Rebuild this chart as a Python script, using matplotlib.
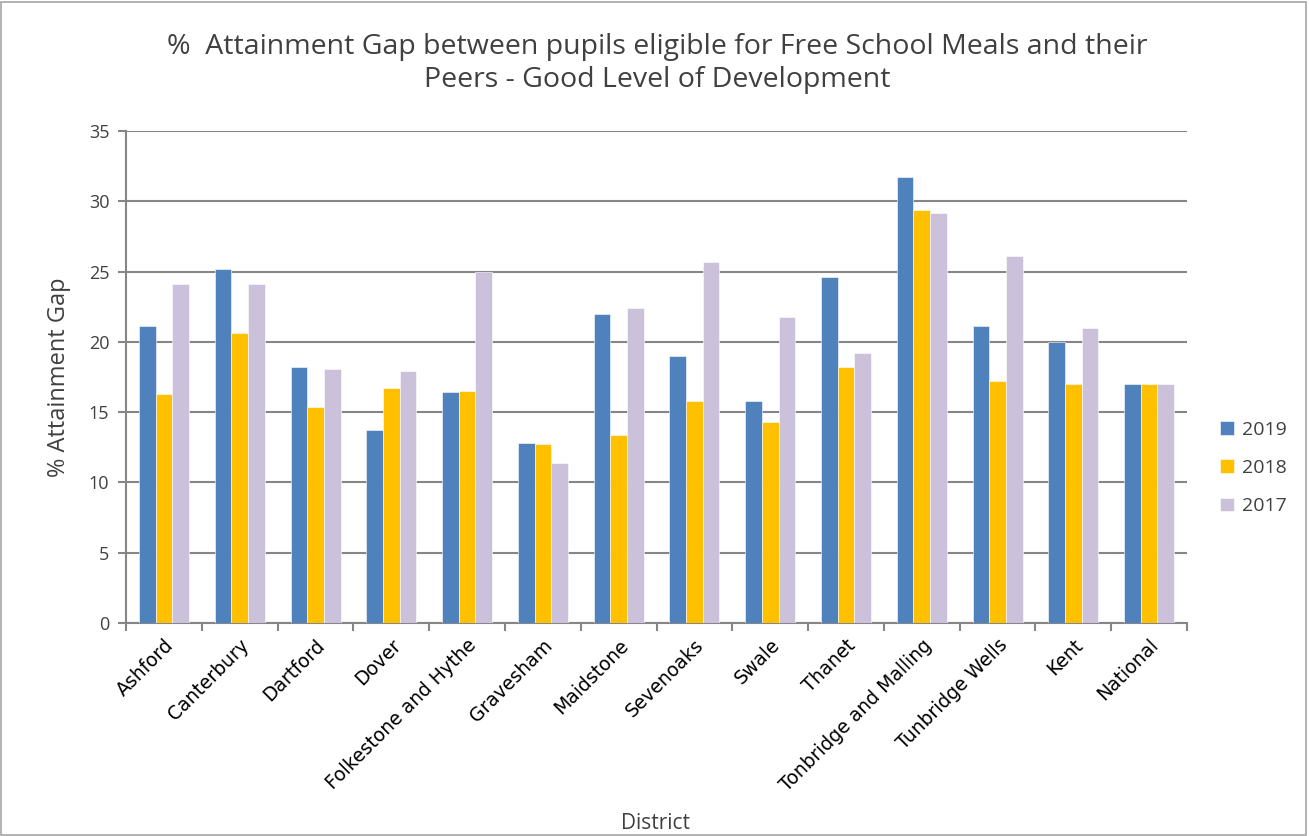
import numpy as np
import matplotlib
matplotlib.use("Agg")
import matplotlib.pyplot as plt
from matplotlib.patches import Rectangle

districts = ["Ashford", "Canterbury", "Dartford", "Dover", "Folkestone and Hythe",
             "Gravesham", "Maidstone", "Sevenoaks", "Swale", "Thanet",
             "Tonbridge and Malling", "Tunbridge Wells", "Kent", "National"]
gap_2019 = [21.1, 25.2, 18.2, 13.7, 16.4, 12.8, 22.0, 19.0, 15.8, 24.6, 31.7, 21.1, 20.0, 17.0]
gap_2018 = [16.3, 20.6, 15.4, 16.7, 16.5, 12.7, 13.4, 15.8, 14.3, 18.2, 29.4, 17.2, 17.0, 17.0]
gap_2017 = [24.1, 24.1, 18.1, 17.9, 25.0, 11.4, 22.4, 25.7, 21.8, 19.2, 29.2, 26.1, 21.0, 17.0]
series = [("2019", gap_2019, "#4F81BD"), ("2018", gap_2018, "#FFC000"), ("2017", gap_2017, "#CCC1DA")]

grey = "#404040"
axis_grey = "#868686"
txt_font = "Open Sans"

fig = plt.figure(figsize=(13.09, 8.36), dpi=100)
ax = fig.add_axes([0.0963, 0.2548, 0.8105, 0.5885])

x = np.arange(len(districts))
w = 0.22
for i, (name, vals, col) in enumerate(series):
    ax.bar(x + (i - 1) * w, vals, w, color=col, label=name, zorder=3,
           edgecolor="white", linewidth=0.4)

ax.set_xlim(-0.5, len(districts) - 0.5)
ax.set_ylim(0, 35)
ax.set_yticks(range(0, 36, 5))
ax.yaxis.grid(True, color=axis_grey, linewidth=1.5, zorder=0)
ax.set_axisbelow(True)

for s in ["top", "right"]:
    ax.spines[s].set_visible(False)
for s in ["left", "bottom"]:
    ax.spines[s].set_color(axis_grey)
    ax.spines[s].set_linewidth(1.5)

# category ticks at boundaries, labels at centres
ax.set_xticks(np.arange(-0.5, len(districts)), minor=False)
ax.set_xticklabels([])
ax.set_xticks(x, minor=True)
ax.set_xticklabels(districts, minor=True, rotation=45, ha="right", va="top",
                   rotation_mode="anchor", fontsize=13.5, family="DejaVu Sans")
ax.tick_params(axis="x", which="major", length=6, width=1.5, color=axis_grey, direction="out")
ax.tick_params(axis="x", which="minor", length=0, pad=9)
ax.tick_params(axis="y", length=6, width=1.5, color=axis_grey, labelsize=13,
               labelcolor=grey, pad=6)
for lab in ax.get_yticklabels():
    lab.set_family(txt_font)

ax.set_ylabel("% Attainment Gap", fontsize=17, color=grey, family=txt_font, labelpad=13)
fig.text(0.5005, 0.0145, "District", fontsize=15, color=grey, family=txt_font,
         ha="center", va="center")

fig.text(0.502, 0.924, "%  Attainment Gap between pupils eligible for Free School Meals and their\nPeers - Good Level of Development",
         fontsize=20.5, color=grey, family=txt_font, ha="center", va="center",
         linespacing=1.28)

leg = ax.legend(loc="center left", bbox_to_anchor=(1.015, 0.315), frameon=False,
                prop={"family": txt_font, "size": 14}, handlelength=0.7,
                handleheight=0.7, handletextpad=0.4, labelspacing=1.05)
for t in leg.get_texts():
    t.set_color(grey)

fig.patches.append(Rectangle((0.001, 0.001), 0.997, 0.997, transform=fig.transFigure,
                             fill=False, edgecolor="#A6A6A6", linewidth=1.2))

fig.savefig("out.png", dpi=100)
